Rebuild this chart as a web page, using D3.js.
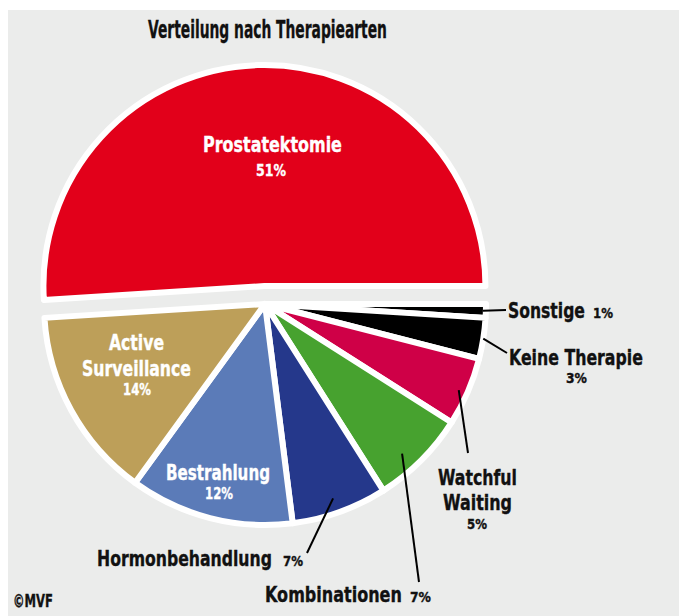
<!DOCTYPE html>
<html>
<head>
<meta charset="utf-8">
<script src="https://cdn.jsdelivr.net/npm/d3@7"></script>
<style>
  body { margin: 0; background: #fff; }
  text { font-family: "Liberation Sans Narrow", "DejaVu Sans Condensed", "DejaVu Sans", sans-serif; font-weight: bold; }
</style>
</head>
<body>
<script>
// Therapy shares, clockwise from 3 o'clock
const categories = ["Sonstige", "Keine Therapie", "Watchful Waiting", "Kombinationen",
    "Hormonbehandlung", "Bestrahlung", "Active Surveillance", "Prostatektomie"];
const values = [1, 3, 5, 7, 7, 12, 14, 51];
const colors = ["#000000", "#000000", "#cf0047", "#47a22f", "#25388b", "#5b7bb8", "#bd9f59", "#e2001a"];

const width = 679;
const height = 616;

const svg = d3.select("body")
    .append("svg")
    .attr("width", width)
    .attr("height", height);

// grey panel
svg.append("rect")
    .attr("x", 8)
    .attr("y", 10)
    .attr("width", width - 8)
    .attr("height", height - 10)
    .attr("fill", "#ebeceb");

const cx = 265, cy = 304, radius = 221;
const explode = [0, 0, 0, 0, 0, 0, 0, 18];

const pie = d3.pie()
    .sort(null)
    .value(d => d.value)
    .startAngle(Math.PI / 2)
    .endAngle(Math.PI / 2 + 2 * Math.PI);

const arcs = pie(categories.map((c, i) => ({ name: c, value: values[i] })));
const arc = d3.arc().innerRadius(0).outerRadius(radius);

const g = svg.append("g").attr("transform", `translate(${cx},${cy})`);

g.selectAll("path")
    .data(arcs)
    .join("path")
    .attr("d", arc)
    .attr("transform", d => {
        const a = (d.startAngle + d.endAngle) / 2;
        const o = explode[d.index];
        return `translate(${o * Math.sin(a)},${-o * Math.cos(a)})`;
    })
    .attr("fill", (d, i) => colors[i])
    .attr("stroke", "#fff")
    .attr("stroke-width", 6)
    .attr("stroke-linejoin", "round");

// leader lines: start inside the slice, end at its label
const leaders = [
    { i: 0, frac: 0.5, r: 218, end: [506, 310] },
    { i: 1, frac: 0.5, r: 221, end: [507, 353] },
    { i: 2, frac: 0.53, r: 212, end: [468, 453] },
    { i: 3, frac: 0.6, r: 203, end: [419, 582] },
    { i: 4, frac: 0.52, r: 206, end: [307, 553] }
];

function leaderStart(d) {
    const s = arcs[d.i];
    const a = s.startAngle + d.frac * (s.endAngle - s.startAngle);
    return [cx + d.r * Math.sin(a), cy - d.r * Math.cos(a)];
}

svg.selectAll("line.leader")
    .data(leaders)
    .join("line")
    .attr("class", "leader")
    .attr("x1", d => leaderStart(d)[0])
    .attr("y1", d => leaderStart(d)[1])
    .attr("x2", d => d.end[0])
    .attr("y2", d => d.end[1])
    .attr("stroke", "#000")
    .attr("stroke-width", 2);

// condensed label: draw at natural width, then squeeze to w with a transform
function label(txt, x, y, size, w, anchor, fill) {
    const t = svg.append("text")
        .attr("font-size", size)
        .attr("text-anchor", anchor)
        .attr("fill", fill)
        .attr("stroke", fill)
        .attr("stroke-width", 0.35)
        .text(txt);
    const len = t.node().getComputedTextLength();
    const sx = w / len;
    t.attr("transform", `translate(${x},${y}) scale(${sx},1)`);
}

const pct = values.map(v => v + "%");
const dark = "#111";

// title
label("Verteilung nach Therapiearten", 267.5, 38, 24, 239, "middle", dark);

// inside labels
label("Prostatektomie", 272.5, 152, 21, 139, "middle", "#fff");
label(pct[7], 271, 176, 15, 30, "middle", "#fff");
label("Active", 136.5, 350, 21, 55, "middle", "#fff");
label("Surveillance", 136.5, 376, 21, 109, "middle", "#fff");
label(pct[6], 137, 395, 15, 28, "middle", "#fff");
label("Bestrahlung", 218, 480, 21, 104, "middle", "#fff");
label(pct[5], 219, 499, 15, 28, "middle", "#fff");

// outside labels
label("Sonstige", 508, 318, 21, 77, "start", dark);
label(pct[0], 593, 318, 14, 20, "start", dark);
label("Keine Therapie", 509, 365, 21, 134, "start", dark);
label(pct[1], 576.5, 383, 14, 21, "middle", dark);
label("Watchful", 477.5, 485, 21, 79, "middle", dark);
label("Waiting", 477.5, 510, 21, 69, "middle", dark);
label(pct[2], 477, 529, 14, 20, "middle", dark);
label("Hormonbehandlung", 97, 566, 21, 175, "start", dark);
label(pct[4], 283, 566, 14, 20, "start", dark);
label("Kombinationen", 265, 602, 21, 137, "start", dark);
label(pct[3], 410, 602, 14, 21, "start", dark);

// source
label("©MVF", 13, 607, 17, 40, "start", dark);
</script>
</body>
</html>
